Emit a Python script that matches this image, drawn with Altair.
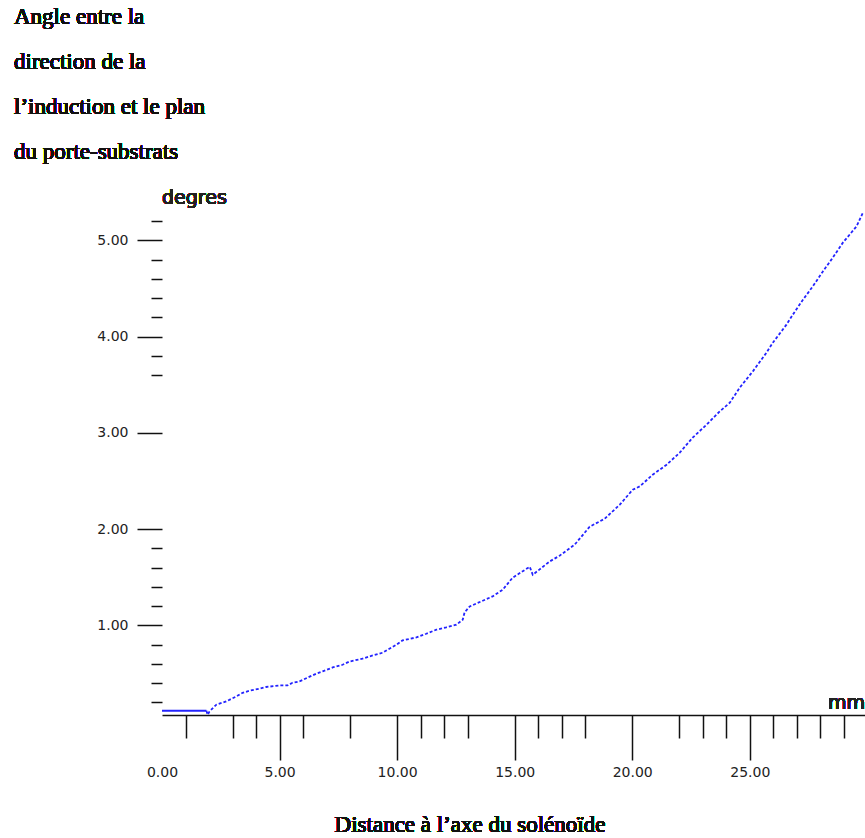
import altair as alt
import pandas as pd

# Angle (degrees) between the induction direction and the substrate-holder plane
# as a function of the distance (mm) from the solenoid axis.
x_mm = [0.00, 1.89, 1.94, 2.02, 2.31, 2.73, 3.16, 3.43, 3.72, 4.15,
        4.43, 5.00, 5.34, 5.55, 5.85, 6.28, 6.56, 6.83, 7.26, 7.68,
        7.98, 8.53, 8.96, 9.38, 9.97, 10.23, 10.82, 11.24, 11.67, 12.09,
        12.52, 12.79, 12.87, 13.09, 13.64, 14.06, 14.49, 14.91, 15.64, 15.77,
        16.49, 16.91, 17.55, 18.19, 18.83, 19.47, 20.02, 20.32, 20.87, 21.46,
        22.02, 22.57, 23.16, 23.72, 24.15, 24.57, 25.13, 25.71, 25.98, 26.56,
        26.83, 27.26, 27.68, 28.11, 28.53, 28.96, 29.54, 29.81]
angle_deg = [0.114, 0.114, 0.073, 0.107, 0.177, 0.211, 0.263, 0.301, 0.322, 0.343,
             0.361, 0.377, 0.377, 0.405, 0.419, 0.468, 0.499, 0.523, 0.564, 0.592,
             0.626, 0.655, 0.689, 0.717, 0.800, 0.845, 0.876, 0.914, 0.956, 0.980,
             1.008, 1.060, 1.136, 1.198, 1.257, 1.302, 1.371, 1.496, 1.610, 1.527,
             1.665, 1.725, 1.839, 2.026, 2.109, 2.255, 2.410, 2.445, 2.566, 2.670,
             2.795, 2.951, 3.086, 3.224, 3.314, 3.470, 3.640, 3.834, 3.938, 4.125,
             4.229, 4.384, 4.523, 4.678, 4.821, 4.977, 5.146, 5.288]

x_major_ticks = [0, 5, 10, 15, 20, 25]
x_minor_ticks = [1, 3, 4, 6, 8, 11, 12, 13, 16, 17, 18, 22, 23, 24, 26, 27, 28, 29]
y_major_ticks = [1, 2, 3, 4, 5]
y_minor_ticks = [0.2, 0.4, 0.6, 0.8, 1.2, 1.4, 1.6, 1.8, 3.6, 3.8,
                 4.2, 4.4, 4.6, 4.8, 5.2]

title_lines = ["Angle entre la", "direction de la",
               "l\u2019induction et le plan", "du porte-substrats"]
x_title = "Distance \u00e0 l\u2019axe du sol\u00e9no\u00efde"
y_unit = "degres"
x_unit = "mm"

df = pd.DataFrame({"x": x_mm, "y": angle_deg})

X_DOMAIN = [0, 29.9]
Y_DOMAIN = [0.07, 5.42]
W, H = 703, 515
TICK_FONT = "DejaVu Sans"
SERIF = "Liberation Serif"
BLUE = "#2323ff"

x_scale = alt.Scale(domain=X_DOMAIN, nice=False, zero=False)
y_scale = alt.Scale(domain=Y_DOMAIN, nice=False, zero=False)

x_major = alt.X(
    "x:Q", scale=x_scale,
    axis=alt.Axis(values=x_major_ticks, format=".2f", title=None, grid=False,
                  orient="bottom", tickSize=45, tickWidth=1.5, tickColor="#111",
                  tickOpacity={"condition": {"test": "datum.value === 0", "value": 0}, "value": 1},
                  domainColor="#111", domainWidth=1.5,
                  labelFont=TICK_FONT, labelFontSize=14, labelColor="#222",
                  labelPadding=5, labelFlush=False, labelOverlap=False),
)
y_major = alt.Y(
    "y:Q", scale=y_scale,
    axis=alt.Axis(values=y_major_ticks, format=".2f", title=None, grid=False,
                  orient="left", domain=False, tickSize=25, tickWidth=1.5,
                  tickColor="#111", labelFont=TICK_FONT, labelFontSize=14,
                  labelColor="#222", labelPadding=9, labelOverlap=False),
)

base = alt.Chart(df)

solid = base.transform_filter("datum.x <= 1.9").mark_line(
    color=BLUE, strokeWidth=1.8
).encode(x=x_major, y=y_major)

dotted = base.transform_filter("datum.x >= 1.89").mark_line(
    color=BLUE, strokeWidth=1.8, strokeDash=[3, 2]
).encode(x=x_major, y=y_major)

curve = alt.layer(solid, dotted)

# invisible copy of the curve carrying the minor-tick axes
minor = base.mark_line(opacity=0).encode(
    x=alt.X("x:Q", scale=x_scale,
            axis=alt.Axis(values=x_minor_ticks, orient="bottom", labels=False,
                          domain=False, grid=False, title=None, tickSize=23,
                          tickWidth=1.5, tickColor="#111")),
    y=alt.Y("y:Q", scale=y_scale,
            axis=alt.Axis(values=y_minor_ticks, orient="left", labels=False,
                          domain=False, grid=False, title=None, tickSize=11,
                          tickWidth=1.5, tickColor="#111")),
)

title = alt.Chart(df).mark_text(
    text=title_lines, font=SERIF, fontSize=23, fontWeight="normal", lineHeight=45,
    align="left", baseline="alphabetic", color="#111"
).encode(x=alt.value(-148), y=alt.value(-176))

bottom_title = alt.Chart(df).mark_text(
    text=x_title, font=SERIF, fontSize=23, fontWeight="normal", align="center",
    baseline="middle", color="#111"
).encode(x=alt.value(308), y=alt.value(625))

unit_y = alt.Chart(df).mark_text(
    text=y_unit, font=TICK_FONT, fontSize=19, fontWeight="normal", align="left",
    baseline="middle", color="#222"
).encode(x=alt.value(0), y=alt.value(-2))

unit_x = alt.Chart(df).mark_text(
    text=x_unit, font=TICK_FONT, fontSize=19, fontWeight="normal", align="left",
    baseline="middle", color="#222"
).encode(x=alt.value(666), y=alt.value(503))

chart = alt.layer(curve, minor, title, bottom_title, unit_y, unit_x).resolve_scale(
    x="independent", y="independent"
).properties(
    width=W, height=H,
    autosize=alt.AutoSizeParams(type="none"),
    padding={"left": 162, "top": 200, "right": 0, "bottom": 123},
    background="white",
).configure_view(stroke=None)

chart.save("out.html", embed_options={"renderer": "svg", "actions": False})
